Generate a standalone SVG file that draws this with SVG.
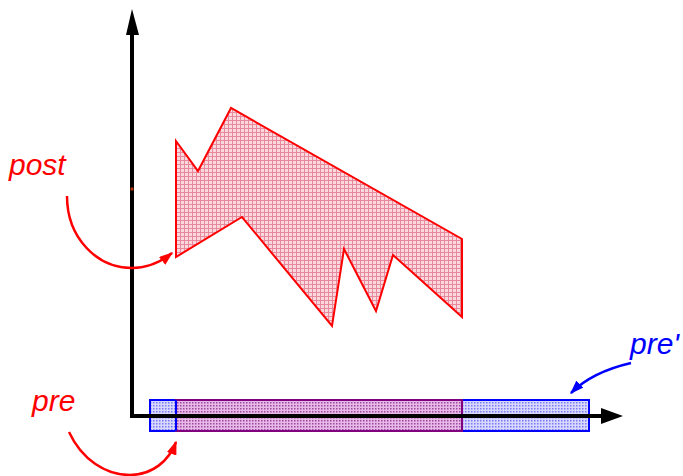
<svg xmlns="http://www.w3.org/2000/svg" width="683" height="476" viewBox="0 0 683 476">
<style>
.lbl{font-family:"Liberation Sans",Arial,sans-serif;font-style:italic;font-size:30px}
.red{fill:#ff0000}
.blue{fill:#0000ff}
.axis{stroke:#000;stroke-width:4;fill:none}
.conn{fill:none;stroke-width:2.5}
</style>
<defs>
<pattern id="pinkgrid" width="4" height="4" patternUnits="userSpaceOnUse">
<rect width="4" height="4" fill="#f9d8de"/>
<path d="M0,0.5H4M0.5,0V4" stroke="#e8889c" stroke-width="1"/>
</pattern>
<pattern id="bluedots" width="3" height="3" patternUnits="userSpaceOnUse">
<rect width="3" height="3" fill="#d8d8ff"/>
<rect width="1.5" height="1.5" fill="#7a7af0"/>
</pattern>
<pattern id="purpledots" width="3" height="3" patternUnits="userSpaceOnUse">
<rect width="3" height="3" fill="#e8b8e8"/>
<rect width="1.5" height="1.5" fill="#9a4a9e"/>
</pattern>
<marker id="ahRed" viewBox="0 0 10 10" refX="9" refY="5" markerWidth="14" markerHeight="10" markerUnits="userSpaceOnUse" orient="auto" preserveAspectRatio="none">
<path d="M0,0L10,5L0,10z" fill="#ff0000"/>
</marker>
<marker id="ahBlue" viewBox="0 0 10 10" refX="9" refY="5" markerWidth="14" markerHeight="10" markerUnits="userSpaceOnUse" orient="auto" preserveAspectRatio="none">
<path d="M0,0L10,5L0,10z" fill="#0000ff"/>
</marker>
</defs>
<rect width="683" height="476" fill="#ffffff"/>

<g id="pre-prime-rect">
<rect x="150" y="400" width="439" height="31" fill="url(#bluedots)" stroke="#0000ff" stroke-width="2"/>
</g>
<g id="pre-rect">
<rect x="176" y="400" width="286" height="31" fill="url(#purpledots)" stroke="#800080" stroke-width="2"/>
<line x1="176" y1="400" x2="176" y2="431" stroke="#0000ff" stroke-width="2"/>
</g>

<g id="axes">
<path class="axis" d="M132,418V32"/>
<path class="axis" d="M130,416H603"/>
<path d="M601,408L623,416L601,424z" fill="#000"/>
<path d="M132,9L139,35L126,35z" fill="#000"/>
<rect x="130.5" y="187.5" width="3" height="3" fill="#b03010"/>
</g>

<g id="post-region">
<polygon points="176,141 198,171 231,108 462,239 462,317 393,255 376,311 344,249 332,326 242,217 176,257" fill="url(#pinkgrid)" stroke="#ff0000" stroke-width="2" stroke-linejoin="miter"/>
</g>

<g id="labels">
<text class="lbl red" x="9" y="175">post</text>
<text class="lbl red" x="32" y="411">pre</text>
<text class="lbl blue" x="630" y="354">pre'</text>
</g>

<g id="connectors">
<path class="conn" stroke="#ff0000" d="M67,196C67,238 97,268 132,268C148,268 162,261 172,253" marker-end="url(#ahRed)"/>
<path class="conn" stroke="#ff0000" d="M69,432C82,460 106,475 130,475C152,475 169,461 176,442" marker-end="url(#ahRed)"/>
<path class="conn" stroke="#0000ff" d="M631,363C605,369 584,380 571,393" marker-end="url(#ahBlue)"/>
</g>
</svg>
